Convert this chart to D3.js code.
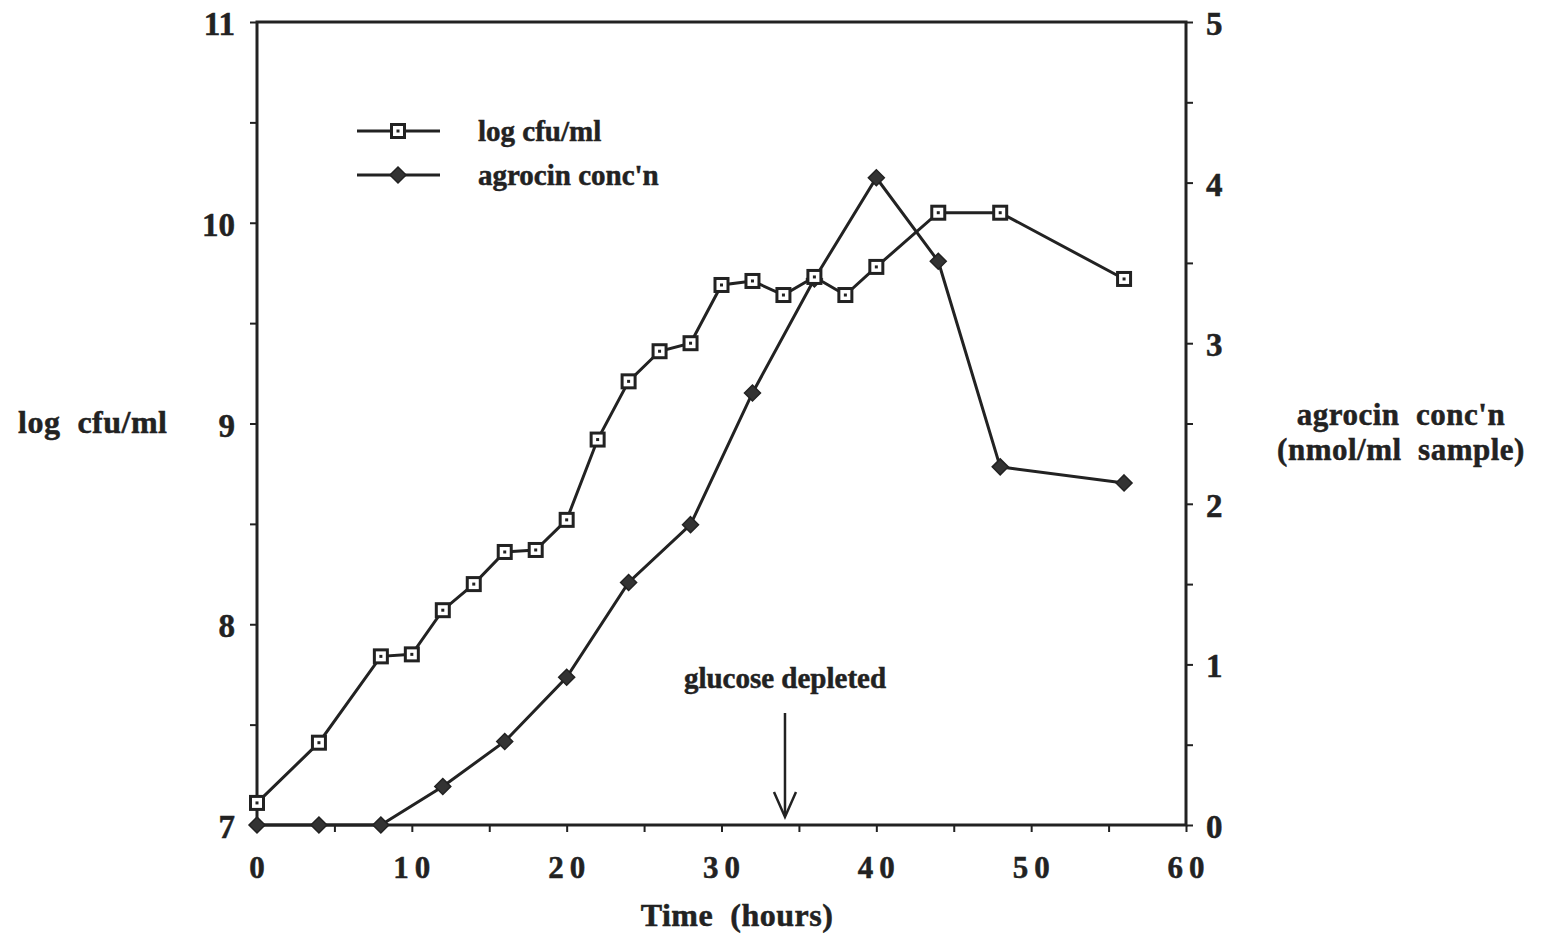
<!DOCTYPE html>
<html>
<head>
<meta charset="utf-8">
<script src="https://cdn.jsdelivr.net/npm/d3@7"></script>
<style>
  body { margin: 0; background: #fff; }
  text { font-family: "Liberation Serif", "DejaVu Serif", serif; font-weight: bold; fill: #222; stroke: #222; stroke-width: 0.5px; }
</style>
</head>
<body>
<script>
// time (hours) of each sample
var cfuTimes = [0, 4, 8, 10, 12, 14, 16, 18, 20, 22, 24, 26, 28, 30, 32, 34, 36, 38, 40, 44, 48, 56];
var cfuValues = [7.11, 7.41, 7.84, 7.85, 8.07, 8.20, 8.36, 8.37, 8.52, 8.92, 9.21, 9.36, 9.40, 9.69, 9.71, 9.64, 9.73, 9.64, 9.78, 10.05, 10.05, 9.72];
var agroTimes = [0, 4, 8, 12, 16, 20, 24, 28, 32, 36, 40, 44, 48, 56];
var agroValues = [0, 0, 0, 0.24, 0.52, 0.92, 1.51, 1.87, 2.69, 3.40, 4.03, 3.51, 2.23, 2.13];
var xTicks = [0, 10, 20, 30, 40, 50, 60];
var leftTicks = [7, 8, 9, 10, 11];
var rightTicks = [0, 1, 2, 3, 4, 5];
var glucoseTime = 34.1;

var W = 1541, H = 939;
var margin = {top: 22, right: 355, bottom: 114, left: 257};
var ink = "#222";

var svg = d3.select("body").append("svg")
  .attr("width", W)
  .attr("height", H);

var x = d3.scaleLinear().domain([0, 60]).range([margin.left, W - margin.right]);
var yL = d3.scaleLinear().domain([7, 11]).range([H - margin.bottom, margin.top]);
var yR = d3.scaleLinear().domain([0, 5]).range([H - margin.bottom, margin.top]);

// axes: major + minor ticks, all outward
var bottomAxis = d3.axisBottom(x).tickValues(d3.range(0, 61, 5)).tickSize(7).tickFormat("");
var leftAxis = d3.axisLeft(yL).tickValues(d3.range(7, 11.01, 0.5)).tickSize(7).tickFormat("");
var rightAxis = d3.axisRight(yR).tickValues(d3.range(0, 5.01, 0.5)).tickSize(7).tickFormat("");

function styleAxis(g) {
  g.select(".domain").remove();
  g.selectAll(".tick line").attr("stroke", ink).attr("stroke-width", 2);
}

svg.append("g").attr("transform", "translate(0," + (H - margin.bottom) + ")").call(bottomAxis).call(styleAxis);
svg.append("g").attr("transform", "translate(" + margin.left + ",0)").call(leftAxis).call(styleAxis);
svg.append("g").attr("transform", "translate(" + (W - margin.right) + ",0)").call(rightAxis).call(styleAxis);

// frame
svg.append("rect")
  .attr("x", x(0)).attr("y", yL(11))
  .attr("width", x(60) - x(0)).attr("height", yL(7) - yL(11))
  .attr("fill", "none").attr("stroke", ink).attr("stroke-width", 3);

// tick labels
svg.append("g").selectAll("text").data(xTicks).enter().append("text")
  .attr("x", function(d){ return x(d) + (d >= 10 ? 3 : 0); })
  .attr("y", H - margin.bottom + 53)
  .attr("text-anchor", "middle")
  .attr("font-size", 31)
  .attr("letter-spacing", function(d){ return d >= 10 ? "6px" : "0px"; })
  .text(function(d){ return d; });

svg.append("g").selectAll("text").data(leftTicks).enter().append("text")
  .attr("x", margin.left - 22)
  .attr("y", function(d){ return yL(d) + 13; })
  .attr("text-anchor", "end")
  .attr("font-size", 33)
  .text(function(d){ return d; });

svg.append("g").selectAll("text").data(rightTicks).enter().append("text")
  .attr("x", W - margin.right + 20)
  .attr("y", function(d){ return yR(d) + 13; })
  .attr("text-anchor", "start")
  .attr("font-size", 33)
  .text(function(d){ return d; });

// axis titles
svg.append("text").attr("x", 737).attr("y", 926).attr("text-anchor", "middle")
  .attr("font-size", 32).attr("letter-spacing", "0.5px").attr("xml:space", "preserve").text("Time  (hours)");
svg.append("text").attr("x", 18).attr("y", 433).attr("font-size", 32)
  .attr("letter-spacing", "0.5px").attr("xml:space", "preserve").text("log  cfu/ml");
svg.append("text").attr("x", 1401).attr("y", 425).attr("text-anchor", "middle")
  .attr("font-size", 31).attr("letter-spacing", "0.5px").attr("xml:space", "preserve").text("agrocin  conc'n");
svg.append("text").attr("x", 1401).attr("y", 460).attr("text-anchor", "middle")
  .attr("font-size", 31).attr("letter-spacing", "0.5px").attr("xml:space", "preserve").text("(nmol/ml  sample)");

// glucose annotation
svg.append("text").attr("x", x(glucoseTime)).attr("y", 688).attr("text-anchor", "middle")
  .attr("font-size", 29).text("glucose depleted");
var ax = x(glucoseTime);
svg.append("line").attr("x1", ax).attr("x2", ax).attr("y1", 713).attr("y2", 816)
  .attr("stroke", ink).attr("stroke-width", 2.5);
svg.append("path").attr("d", "M" + (ax - 11) + ",792 L" + ax + ",817 L" + (ax + 11) + ",792")
  .attr("fill", "none").attr("stroke", ink).attr("stroke-width", 2.5);

// lines
var cfuData = cfuTimes.map(function(t, i){ return [t, cfuValues[i]]; });
var agroData = agroTimes.map(function(t, i){ return [t, agroValues[i]]; });

svg.append("path").datum(agroData)
  .attr("fill", "none").attr("stroke", ink).attr("stroke-width", 3)
  .attr("d", d3.line().x(function(d){ return x(d[0]); }).y(function(d){ return yR(d[1]); }));

svg.append("path").datum(cfuData)
  .attr("fill", "none").attr("stroke", ink).attr("stroke-width", 3)
  .attr("d", d3.line().x(function(d){ return x(d[0]); }).y(function(d){ return yL(d[1]); }));

function diamond(g, cx, cy) {
  g.append("path")
    .attr("d", "M" + cx + "," + (cy - 8) + " L" + (cx + 8) + "," + cy + " L" + cx + "," + (cy + 8) + " L" + (cx - 8) + "," + cy + "Z")
    .attr("fill", "#333").attr("stroke", ink).attr("stroke-width", 1.5);
}
function square(g, cx, cy) {
  g.append("rect").attr("x", cx - 6.5).attr("y", cy - 6.5).attr("width", 13).attr("height", 13)
    .attr("fill", "#fff").attr("stroke", ink).attr("stroke-width", 3);
  g.append("rect").attr("x", cx - 1.5).attr("y", cy - 1.5).attr("width", 3).attr("height", 3)
    .attr("fill", ink);
}

var agroMarks = svg.append("g");
agroData.forEach(function(d){ diamond(agroMarks, x(d[0]), yR(d[1])); });
var cfuMarks = svg.append("g");
cfuData.forEach(function(d){ square(cfuMarks, x(d[0]), yL(d[1])); });

// legend
var legend = svg.append("g");
legend.append("line").attr("x1", 357).attr("x2", 440).attr("y1", 131).attr("y2", 131)
  .attr("stroke", ink).attr("stroke-width", 3);
square(legend, 398, 131);
legend.append("text").attr("x", 478).attr("y", 141).attr("font-size", 29).text("log cfu/ml");
legend.append("line").attr("x1", 357).attr("x2", 440).attr("y1", 175).attr("y2", 175)
  .attr("stroke", ink).attr("stroke-width", 3);
diamond(legend, 398, 175);
legend.append("text").attr("x", 478).attr("y", 185).attr("font-size", 29).text("agrocin conc'n");
</script>
</body>
</html>
